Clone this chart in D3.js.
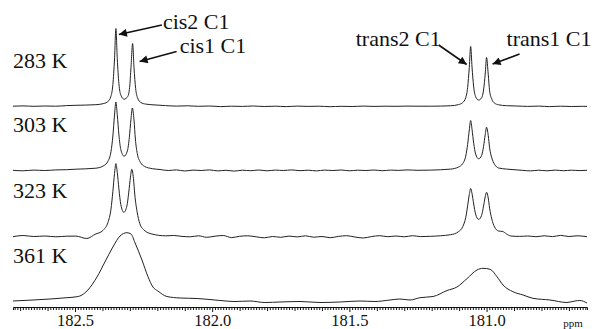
<!DOCTYPE html>
<html>
<head>
<meta charset="utf-8">
<script src="https://cdn.jsdelivr.net/npm/d3@7/dist/d3.min.js"></script>
<style>
  html, body { margin: 0; padding: 0; background: #fff; }
  svg { display: block; }
</style>
</head>
<body>
<div id="chart"></div>
<script>
// temperatures, top to bottom
const temps = ['283 K', '303 K', '323 K', '361 K'];
// vertical offset of each trace (intensity units)
const offsets = [198.5, 134.5, 68, 3];
const tickLabels = [182.5, 182.0, 181.5, 181.0];

// [ppm, intensity]
const spec283 = [
  [182.726,0.3],[182.69,0.6],[182.65,0.2],[182.61,0.5],[182.57,0.3],[182.53,0.9],
  [182.497,1.2],[182.424,1.8],[182.395,3],[182.380,5],[182.369,10.3],[182.362,22],[182.356,47.5],
  [182.351,78],[182.346,48],[182.340,22.7],[182.333,11.4],[182.321,7.3],[182.308,10],[182.301,19],
  [182.296,39],[182.290,63],[182.285,39],[182.279,18],[182.272,8.5],[182.260,4],[182.242,2.4],[182.205,1.5],
  [182.17,0.9],[182.13,0.4],[182.09,0.7],[182.05,0.2],[182.01,0.5],[181.97,-0.1],[181.93,0.3],[181.89,0.1],
  [181.85,0.5],[181.81,0],[181.77,0.3],[181.73,-0.1],[181.69,0.4],[181.65,0.1],[181.61,0.3],[181.57,-0.2],
  [181.53,0.2],[181.49,0],[181.45,0.4],[181.41,0.1],[181.37,0.3],[181.33,0.2],[181.29,0.4],[181.25,0.3],
  [181.204,0.3],[181.131,0.75],[181.102,1.9],[181.087,3.9],[181.076,8.8],[181.069,19],[181.063,39],
  [181.058,60],[181.053,39.3],[181.047,19.6],[181.040,9.9],[181.029,6.4],[181.018,8.7],[181.011,16.5],
  [181.005,32.5],[181.000,49],[180.994,32.2],[180.989,15.8],[180.981,7.4],[180.971,3.4],[180.956,1.7],[180.927,0.8],
  [180.89,0.5],[180.85,0.1],[180.81,0.4],[180.77,-0.1],[180.73,0.3],[180.69,0],[180.65,0.2],[180.634,0.1]
];

const spec303 = [
  [182.726,0.2],[182.69,-0.3],[182.65,0.4],[182.61,0],[182.57,0.6],[182.53,0.8],
  [182.497,1.3],[182.424,2.3],[182.395,4.9],[182.380,9.2],[182.369,18.7],[182.362,34.5],[182.356,55.5],
  [182.351,68.5],[182.346,55.8],[182.340,35.6],[182.333,20.9],[182.321,14.3],[182.309,19.7],[182.302,33],
  [182.296,51.3],[182.291,62.5],[182.285,50.6],[182.280,31.5],[182.273,16.9],[182.261,7.9],[182.247,4.2],[182.218,1.8],
  [182.19,1],[182.16,0],[182.13,0.6],[182.10,-0.5],[182.07,0.4],[182.04,0],[182.01,0.6],[181.98,-0.4],
  [181.95,0.2],[181.92,-0.6],[181.89,0.3],[181.86,-0.2],[181.83,0.5],[181.80,-0.3],[181.77,0.4],[181.74,0],
  [181.71,0.6],[181.68,-0.2],[181.65,0.3],[181.62,-0.4],[181.59,0.4],[181.56,0],[181.53,0.5],[181.50,-0.3],
  [181.47,0.3],[181.44,0],[181.41,0.5],[181.38,-0.2],[181.35,0.4],[181.32,0.1],[181.29,0.6],[181.25,0.2],
  [181.204,0.4],[181.131,1.4],[181.102,3.5],[181.087,6.9],[181.076,14.4],[181.069,26.1],[181.063,40.5],
  [181.058,50],[181.053,41.1],[181.047,27.3],[181.040,16.6],[181.029,11.7],[181.018,15.1],[181.011,24],
  [181.005,35.7],[181.000,43.3],[180.994,35.1],[180.989,22.7],[180.981,12.6],[180.971,6.2],[180.956,2.5],[180.927,1.4],
  [180.90,0.8],[180.87,0.2],[180.84,-0.4],[180.81,0.3],[180.78,-0.3],[180.75,0.4],[180.72,-0.2],[180.69,0.3],
  [180.66,-0.1],[180.634,0.2]
];

const spec323 = [
  [182.726,0.3],[182.69,1.5],[182.65,0.5],[182.61,1],[182.57,0.2],[182.53,0.8],
  [182.497,0.9],[182.457,-1.5],[182.424,3.1],[182.409,4.5],[182.395,7.5],[182.380,14.5],[182.369,27.7],
  [182.362,45.6],[182.356,63.4],[182.351,73.4],[182.346,64.7],[182.340,48.1],[182.333,32.4],[182.322,24.7],
  [182.311,30.9],[182.304,44.9],[182.298,59.9],[182.293,67.7],[182.287,58.6],[182.282,42.1],[182.274,25.6],
  [182.264,13.5],[182.249,7.1],[182.220,3],[182.169,1.2],
  [182.14,1.5],[182.11,0.6],[182.08,0.2],[182.05,1.2],[182.02,-0.3],[181.99,0.8],[181.96,1.5],[181.93,-0.6],
  [181.90,0.7],[181.87,1.2],[181.84,0.2],[181.81,-0.8],[181.78,0.5],[181.75,-0.3],[181.72,0.9],[181.69,0.1],
  [181.66,1.2],[181.63,-0.2],[181.60,0.5],[181.57,-0.7],[181.54,0.6],[181.51,1.3],[181.48,0],[181.45,-1],
  [181.42,0.4],[181.39,1.3],[181.36,0.3],[181.33,1],[181.30,0.2],[181.27,1.3],[181.24,0.4],
  [181.204,0.7],[181.131,2.3],[181.102,5.4],[181.087,10.3],[181.076,19.5],[181.069,31.2],[181.063,42.5],
  [181.058,48.5],[181.053,43.4],[181.047,33],[181.040,22.9],[181.029,17.6],[181.018,21.7],[181.011,30.9],
  [181.005,40.1],[181.000,44.7],[180.994,39.1],[180.989,28.9],[180.981,18.1],[180.971,10],[180.956,6],
  [180.941,5.5],[180.927,3],[180.912,1],
  [180.88,0.6],[180.85,1],[180.82,0.3],[180.79,1.2],[180.76,0.4],[180.73,1.6],[180.70,0.5],[180.67,1.2],[180.634,0.3]
];

const spec361 = [
  [182.726,1],[182.653,2],[182.591,3],[182.529,4.3],[182.493,5.3],[182.482,6],[182.453,12],[182.420,25],
  [182.391,40],[182.362,55],[182.336,66],[182.311,69.3],[182.296,68],[182.281,59],[182.256,42],[182.234,25.3],
  [182.216,15],[182.198,11],[182.165,5.5],[182.117,4],[182.055,3.5],[181.990,2],[181.917,0.5],[181.862,1],
  [181.808,-0.5],[181.753,0],[181.680,0.5],[181.607,-0.5],[181.534,0],[181.461,1],[181.407,0.5],[181.352,2],
  [181.316,3],[181.279,2],[181.243,4.3],[181.195,5.5],[181.144,11.5],[181.108,15],[181.071,23.5],[181.035,32],
  [181.013,33.7],[180.987,32.7],[180.962,25.3],[180.940,17],[180.904,10.3],[180.867,7],[180.831,3.7],
  [180.769,2],[180.707,-0.5],[180.678,1],[180.660,1.5],[180.634,-1]
];

const spectra = [spec283, spec303, spec323, spec361];

const width = 594, height = 329;
const axisY = 307;
const serif = "'Liberation Serif', 'DejaVu Serif', serif";

const svg = d3.select('#chart').append('svg')
  .attr('width', width)
  .attr('height', height)
  .style('font-family', serif);

svg.append('rect').attr('width', width).attr('height', height).attr('fill', '#fff');

const x = d3.scaleLinear().domain([182.726, 180.634]).range([13, 587]);
const y = d3.scaleLinear().domain([0, 305]).range([305, 0]);

const line = d3.line()
  .x(d => x(d[0]))
  .y(d => y(d[1]))
  .curve(d3.curveMonotoneX);

spectra.forEach((s, i) => {
  svg.append('path')
    .datum(s.map(d => [d[0], d[1] + offsets[i]]))
    .attr('d', line)
    .attr('fill', 'none')
    .attr('stroke', '#222')
    .attr('stroke-width', 1)
    .attr('stroke-linejoin', 'round');

  svg.append('text')
    .attr('x', 13)
    .attr('y', y(offsets[i] + 39))
    .style('font-family', serif)
    .style('font-size', '22px')
    .attr('fill', '#111')
    .text(temps[i]);
});

// axis: minor ticks every 0.01 ppm
const ticks = d3.range(18064, 18273).map(v => v / 100);
const xAxis = d3.axisBottom(x)
  .tickValues(ticks)
  .tickSizeOuter(0)
  .tickSize(3)
  .tickFormat(d => tickLabels.some(t => Math.abs(t - d) < 1e-6) ? d.toFixed(1) : '');

const gx = svg.append('g')
  .attr('transform', `translate(0,${axisY})`)
  .call(xAxis);

gx.select('.domain').attr('stroke', '#111').attr('stroke-width', 1);
gx.selectAll('.tick line')
  .attr('stroke', '#111')
  .attr('y2', d => {
    const c = Math.round(d * 100);
    if (c % 50 === 0) return 5;
    if (c % 10 === 0) return 4;
    return 3;
  });
gx.selectAll('.tick text')
  .attr('y', 7)
  .style('font-family', serif)
  .style('font-size', '16.5px')
  .attr('fill', '#111');

svg.append('text')
  .attr('x', 573)
  .attr('y', 327)
  .attr('text-anchor', 'middle')
  .style('font-family', serif)
  .style('font-size', '11px')
  .attr('fill', '#111')
  .text('ppm');

// peak annotations (peak from top trace, offsets in px)
const annotations = [
  { text: 'cis2 C1', peak: spec283[13], head: [3, 6], tail: [46, -3.5], label: [47, 0.5], anchor: 'start' },
  { text: 'cis1 C1', peak: spec283[21], head: [7, 18], tail: [44, 8], label: [47, 9.5], anchor: 'start' },
  { text: 'trans2 C1', peak: spec283[59], head: [-4, 18], tail: [-32, -1.5], label: [-30, -0.5], anchor: 'end' },
  { text: 'trans1 C1', peak: spec283[67], head: [6, 6.5], tail: [33, -3.5], label: [20, -11.5], anchor: 'start' }
];

svg.append('defs').append('marker')
  .attr('id', 'arrow')
  .attr('viewBox', '0 0 10 10')
  .attr('refX', 10)
  .attr('refY', 5)
  .attr('markerWidth', 10)
  .attr('markerHeight', 8)
  .attr('markerUnits', 'userSpaceOnUse')
  .attr('orient', 'auto')
  .append('path')
  .attr('d', 'M0,0L10,5L0,10Z')
  .attr('fill', '#111');

annotations.forEach(a => {
  const px = x(a.peak[0]);
  const py = y(a.peak[1] + offsets[0]);
  svg.append('line')
    .attr('x1', px + a.tail[0]).attr('y1', py + a.tail[1])
    .attr('x2', px + a.head[0]).attr('y2', py + a.head[1])
    .attr('stroke', '#111')
    .attr('stroke-width', 1.6)
    .attr('marker-end', 'url(#arrow)');
  svg.append('text')
    .attr('x', px + a.label[0])
    .attr('y', py + a.label[1])
    .attr('text-anchor', a.anchor)
    .style('font-family', serif)
    .style('font-size', '22px')
    .attr('fill', '#111')
    .text(a.text);
});
</script>
</body>
</html>
